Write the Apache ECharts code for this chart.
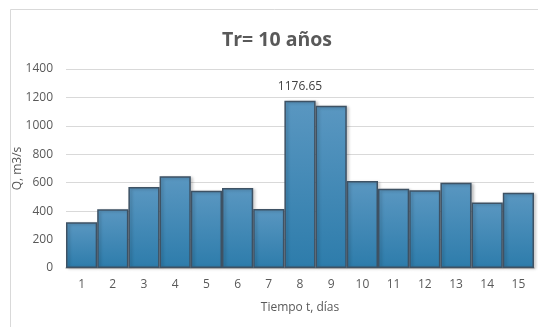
<!DOCTYPE html>
<html>
<head>
<meta charset="utf-8">
<script src="https://cdn.jsdelivr.net/npm/echarts@6/dist/echarts.min.js"></script>
<style>
  html, body { margin: 0; padding: 0; background: #ffffff; }
  #chart { width: 538px; height: 327px; }
</style>
</head>
<body>
<div id="chart"></div>
<script>
// Daily discharge, return period 10 years
const dias = ['1','2','3','4','5','6','7','8','9','10','11','12','13','14','15'];
const caudal = [321, 413, 570, 645, 544, 563, 415, 1176.65, 1142, 612, 558, 547, 600, 460, 530];
const yTicks = [0, 200, 400, 600, 800, 1000, 1200, 1400];
const labeledValue = 1176.65;

const chart = echarts.init(document.getElementById('chart'), null, { renderer: 'canvas' });
const textColor = '#595959';
const fontFam = '"Open Sans", "Noto Sans", sans-serif';

chart.setOption({
  animation: false,
  backgroundColor: '#ffffff',
  graphic: [{
    type: 'rect',
    shape: { x: 10.5, y: 9.5, width: 540, height: 330 },
    style: { fill: 'none', stroke: '#d9d9d9', lineWidth: 1 },
    silent: true
  }],
  title: {
    text: 'Tr= 10 años',
    left: 272,
    top: 25,
    textAlign: 'center',
    textStyle: { fontFamily: fontFam, fontSize: 19.5, fontWeight: 'bold', color: textColor }
  },
  grid: { left: 66, right: 4, top: 69, bottom: 59, containLabel: false, outerBoundsMode: 'none' },
  xAxis: {
    type: 'category',
    data: dias,
    name: 'Tiempo t, días',
    nameLocation: 'middle',
    nameGap: 34,
    nameMoveOverlap: false,
    nameTextStyle: { fontFamily: fontFam, fontSize: 12, color: textColor },
    axisLine: { lineStyle: { color: '#bfbfbf', width: 1.5 } },
    axisTick: { show: false },
    axisLabel: { fontFamily: fontFam, fontSize: 12, color: textColor, margin: 11 }
  },
  yAxis: {
    type: 'value',
    min: yTicks[0],
    max: yTicks[yTicks.length - 1],
    interval: 200,
    name: 'Q, m3/s',
    nameLocation: 'middle',
    nameGap: 42,
    nameMoveOverlap: false,
    nameTextStyle: { fontFamily: fontFam, fontSize: 12, color: textColor },
    axisLine: { show: false },
    axisTick: { show: false },
    axisLabel: {
      fontFamily: fontFam, fontSize: 12, color: textColor, margin: 13,
      formatter: v => String(v)
    },
    splitLine: { lineStyle: { color: '#d9d9d9', width: 1 } }
  },
  series: [{
    type: 'bar',
    data: caudal.map(v => ({
      value: v,
      label: {
        show: v === labeledValue,
        position: 'top',
        distance: 8,
        formatter: p => p.value.toFixed(2),
        fontFamily: fontFam,
        fontSize: 12,
        color: '#404040'
      }
    })),
    barCategoryGap: '0%',
    itemStyle: {
      color: new echarts.graphic.LinearGradient(0, 0, 0, 1, [
        { offset: 0, color: '#5a97c1' },
        { offset: 1, color: '#2d7cab' }
      ]),
      borderColor: '#3e5264',
      borderWidth: 1.5,
      shadowColor: 'rgba(0,0,0,0.22)',
      shadowBlur: 3,
      shadowOffsetX: 2,
      shadowOffsetY: 1
    }
  }]
});
</script>
</body>
</html>
